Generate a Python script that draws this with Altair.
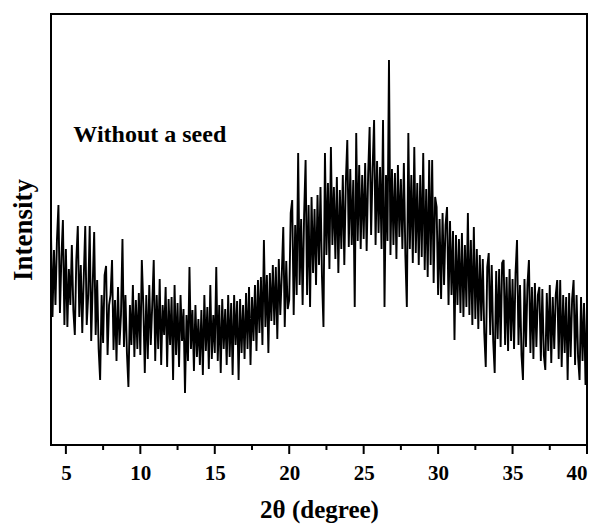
import altair as alt
import pandas as pd

# scan grid (2-theta, degrees)
scan_start = 4.0
scan_step = 0.1

# intensities (arbitrary units), 10 points per degree
low_angle = [
    212, 128, 195, 140, 205, 240, 132, 188, 225, 120,   # 4
    196, 118, 176, 140, 200, 135, 110, 185, 219, 128,   # 5
    180, 112, 168, 219, 120, 150, 219, 104, 160, 213,   # 6
    110, 165, 96, 65, 150, 102, 170, 179, 90, 140,      # 7
    150, 185, 95, 145, 84, 158, 100, 130, 206, 98,      # 8
    150, 92, 58, 140, 100, 160, 88, 145, 96, 152,       # 9
    90, 185, 140, 72, 150, 86, 160, 100, 140, 185,      # 10
    84, 150, 96, 166, 80, 140, 110, 158, 78, 146,       # 11
    100, 148, 65, 160, 90, 142, 78, 150, 104, 136,      # 12
    52, 130, 84, 178, 96, 135, 74, 140, 88, 126,        # 13
    80, 135, 70, 150, 94, 138, 76, 160, 86, 130,        # 14
    92, 178, 84, 140, 72, 146, 96, 136, 80, 150,        # 15
    88, 142, 70, 150, 100, 144, 65, 146, 92, 140,       # 16
    86, 152, 96, 158, 80, 148, 104, 160, 94, 165,       # 17
]
halo = [
    112, 168, 100, 205, 118, 170, 92, 172, 124, 180,    # 18
    120, 178, 106, 186, 130, 170, 218, 118, 184, 136,   # 19
    145, 232, 245, 130, 220, 150, 292, 160, 226, 140,   # 20
    230, 285, 150, 240, 138, 248, 172, 236, 160, 250,   # 21
    180, 258, 168, 118, 292, 190, 262, 176, 298, 200,   # 22
    258, 186, 268, 172, 255, 196, 270, 180, 262, 305,   # 23
    198, 276, 200, 265, 138, 312, 204, 280, 196, 270,   # 24
    206, 282, 194, 270, 318, 210, 276, 325, 200, 284,   # 25
    212, 278, 196, 325, 138, 270, 204, 385, 190, 276,   # 26
    200, 272, 186, 280, 208, 266, 196, 282, 190, 138,   # 27
    312, 196, 270, 182, 298, 192, 262, 180, 270, 188,   # 28
    292, 175, 256, 168, 285, 180, 285, 162, 248, 238,   # 29
    150, 226, 146, 232, 160, 220, 238, 140, 224, 150,   # 30
    214, 105, 210, 140, 206, 132, 212, 128, 200, 138,   # 31
]
high_angle = [
    232, 130, 205, 120, 218, 126, 196, 116, 190, 124,   # 32
    186, 112, 78, 178, 192, 110, 180, 104, 72, 174,     # 33
    106, 176, 98, 182, 185, 100, 168, 94, 176, 104,     # 34
    166, 96, 172, 205, 100, 160, 90, 65, 166, 98,       # 35
    160, 185, 92, 158, 86, 162, 98, 150, 158, 84,       # 36
    156, 90, 75, 152, 94, 160, 82, 148, 96, 150,        # 37
    165, 86, 165, 78, 150, 92, 148, 65, 152, 88,        # 38
    146, 165, 80, 150, 88, 65, 148, 84, 142, 60,        # 39
    140,                                                # 40
]

major_ticks = [5, 10, 15, 20, 25, 30, 35, 40]
minor_ticks = [7.5, 12.5, 17.5, 22.5, 27.5, 32.5, 37.5]
annotation = ["Without a seed"]
annotation_x = [5.5]
annotation_y = [303]

intensity = low_angle + halo + high_angle
two_theta = [round(scan_start + i * scan_step, 1) for i in range(len(intensity))]

df = pd.DataFrame({"x": two_theta, "y": intensity})
ann_df = pd.DataFrame({"x": annotation_x, "y": annotation_y, "label": annotation})
major_df = pd.DataFrame({"x": major_ticks})
minor_df = pd.DataFrame({"x": minor_ticks})

FONT = "Liberation Serif"
x_scale = alt.Scale(domain=[4, 40], nice=False, zero=False)
y_scale = alt.Scale(domain=[0, 431], nice=False, zero=False)

x_axis = alt.Axis(
    values=major_ticks, format="d", title="2θ (degree)", grid=False,
    domain=False, ticks=False,
    labelFont=FONT, labelFontSize=21, labelFontWeight="bold",
    labelColor="black", labelPadding=17, titleFont=FONT, titleFontSize=25,
    titleFontWeight="bold", titleColor="black", titlePadding=14,
)
y_axis = alt.Axis(
    title="Intensity", labels=False, ticks=False, domain=False, grid=False,
    titleFont=FONT, titleFontSize=27, titleFontWeight="bold", titleColor="black",
    titlePadding=14,
)

line = alt.Chart(df).mark_line(color="black", strokeWidth=1.9).encode(
    x=alt.X("x:Q", scale=x_scale, axis=x_axis),
    y=alt.Y("y:Q", scale=y_scale, axis=y_axis),
)

text = alt.Chart(ann_df).mark_text(
    align="left", baseline="alphabetic", font=FONT, fontSize=24,
    fontWeight="bold", color="black",
).encode(
    x=alt.X("x:Q", scale=x_scale, axis=x_axis),
    y=alt.Y("y:Q", scale=y_scale, axis=y_axis),
    text="label:N",
)

# outward tick marks below the frame, positioned through the x scale
major_tick_marks = alt.Chart(major_df).mark_rule(
    color="black", strokeWidth=2, clip=False
).encode(
    x=alt.X("x:Q", scale=x_scale, axis=x_axis),
    y=alt.value(431),
    y2=alt.value(440),
)
minor_tick_marks = alt.Chart(minor_df).mark_rule(
    color="black", strokeWidth=2, clip=False
).encode(
    x=alt.X("x:Q", scale=x_scale, axis=x_axis),
    y=alt.value(431),
    y2=alt.value(436),
)

chart = alt.layer(line, text, major_tick_marks, minor_tick_marks).properties(
    width=536, height=431,
    autosize=alt.AutoSizeParams(type="none"),
    padding={"left": 51, "top": 14, "right": 15, "bottom": 84},
    background="white",
).configure_view(stroke="black", strokeWidth=2)

chart.save("out.html", embed_options={"renderer": "svg", "actions": False})
